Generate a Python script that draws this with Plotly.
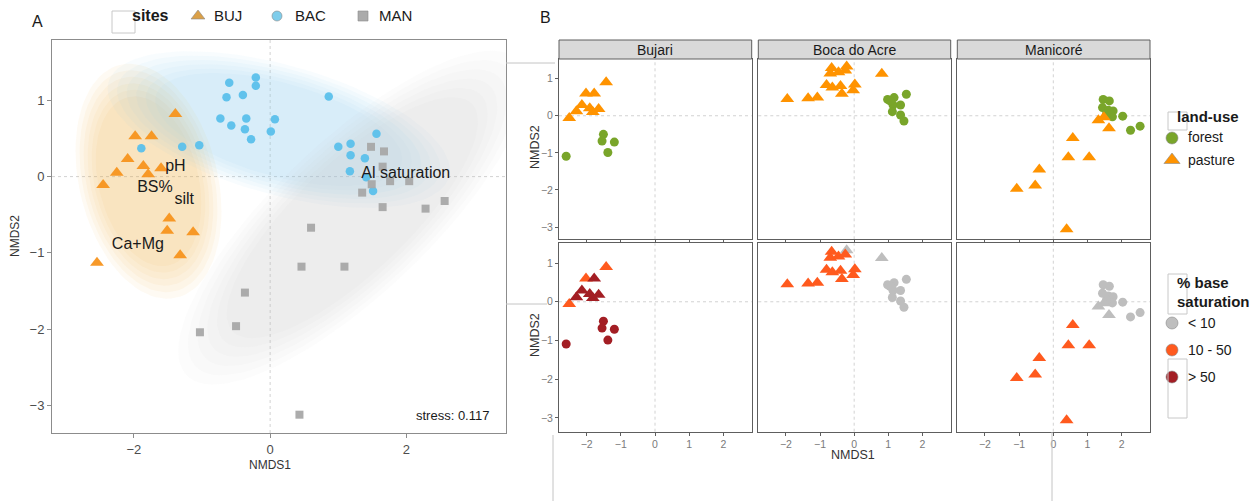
import numpy as np
import plotly.graph_objects as go

W, H = 1259, 501

# ---------------- Panel A: NMDS scores by site ----------------
site_names = ["BUJ", "BAC", "MAN"]

buj_x = [-1.39, -1.98, -1.74, -2.09, -1.86, -2.25, -1.79, -1.60, -2.45, -1.48, -1.51, -1.13, -1.32, -2.54]
buj_y = [0.82, 0.53, 0.53, 0.23, 0.14, 0.05, 0.03, 0.11, -0.11, -0.55, -0.71, -0.73, -1.03, -1.13]

bac_x = [-0.60, -0.64, -0.40, -0.21, -0.21, 0.86, -0.73, -0.57, -0.35, -0.37, -0.28, 0.07, 0.01,
         -1.89, -1.29, -1.04, 1.56, 1.00, 1.18, 1.18, 1.39, 1.17, 1.41, 1.51]
bac_y = [1.23, 1.04, 1.07, 1.30, 1.19, 1.05, 0.76, 0.67, 0.76, 0.62, 0.49, 0.75, 0.59,
         0.37, 0.39, 0.41, 0.56, 0.39, 0.43, 0.28, 0.24, 0.07, -0.01, -0.19]

man_x = [1.48, 1.67, 1.65, 1.76, 2.04, 1.49, 1.35, 1.65, 2.28, 2.56, 0.60, 0.46, 1.09, -0.37, -0.50, -1.03, 0.43]
man_y = [0.39, 0.33, 0.13, -0.06, -0.06, -0.10, -0.21, -0.40, -0.42, -0.32, -0.67, -1.18, -1.18, -1.52, -1.96, -2.04, -3.12]

env_labels = ["pH", "BS%", "silt", "Ca+Mg", "Al saturation"]
env_x = [-1.39, -1.69, -1.26, -1.94, 1.99]
env_y = [0.13, -0.15, -0.31, -0.90, 0.04]

stress_value = 0.117

# ---------------- Panel B: per-site NMDS by land use / base saturation ----------------
facet_titles = ["Bujari", "Boca do Acre", "Manicoré"]

bujari_x = [-2.51, -2.30, -2.14, -2.02, -1.78, -1.91, -1.82, -1.65, -1.43, -2.60, -1.51, -1.55, -1.19, -1.38]
bujari_y = [-0.06, 0.12, 0.29, 0.60, 0.60, 0.20, 0.10, 0.18, 0.90, -1.09, -0.50, -0.68, -0.71, -0.99]
bujari_use = ["pasture"] * 9 + ["forest"] * 5
bujari_bs = ["10 - 50", "> 50", "> 50", "10 - 50", "> 50", "> 50", "> 50", "> 50", "10 - 50",
             "> 50", "> 50", "> 50", "> 50", "> 50"]

boca_x = [-1.96, -1.35, -1.08, -0.81, -0.64, -0.40, -0.36, 0.02, -0.03, -0.66, -0.70, -0.46, -0.22, -0.26, 0.81,
          0.98, 1.17, 1.53, 1.14, 1.36, 1.12, 1.36, 1.46, 1.05]
boca_y = [0.45, 0.47, 0.49, 0.83, 0.76, 0.80, 0.59, 0.84, 0.69, 1.29, 1.14, 1.17, 1.33, 1.22, 1.13,
          0.44, 0.49, 0.58, 0.29, 0.29, 0.11, 0.02, -0.14, 0.40]
boca_use = ["pasture"] * 15 + ["forest"] * 9
boca_bs = ["10 - 50"] * 12 + ["< 10", "10 - 50", "< 10"] + ["< 10"] * 9

mani_x = [1.32, 1.48, 1.63, 0.57, 0.44, 1.05, -0.41, -0.53, -1.07, 0.39,
          1.46, 1.64, 1.44, 1.61, 1.75, 1.73, 2.03, 2.26, 2.54, 1.56]
mani_y = [-0.12, -0.04, -0.34, -0.60, -1.12, -1.12, -1.45, -1.88, -1.97, -3.06,
          0.44, 0.40, 0.22, 0.15, 0.13, -0.03, -0.01, -0.39, -0.28, 0.06]
mani_use = ["pasture"] * 10 + ["forest"] * 10
mani_bs = ["< 10"] * 3 + ["10 - 50"] * 7 + ["< 10"] * 10

landuse_levels = ["forest", "pasture"]
bs_levels = ["< 10", "10 - 50", "> 50"]

# ---------------- styling ----------------
FONT = "Liberation Sans, Arial, sans-serif"
site_color = {"BUJ": "#F7941D", "BAC": "#5BC0EB", "MAN": "#A8A8A8"}
site_symbol = {"BUJ": "triangle-up", "BAC": "circle", "MAN": "square"}
site_size = {"BUJ": 12, "BAC": 8.5, "MAN": 8}
ell_color = {"BUJ": (247, 179, 71), "BAC": (142, 208, 238), "MAN": (189, 189, 189)}
ell_alpha = {"BUJ": 0.065, "BAC": 0.06, "MAN": 0.05}
use_color = {"forest": "#79A52A", "pasture": "#FF9300"}
use_symbol = {"forest": "circle", "pasture": "triangle-up"}
bs_color = {"< 10": "#BEBEBE", "10 - 50": "#FF5A1E", "> 50": "#A31E24"}


def px(v):
    return v / W


def py(v):
    return 1 - v / H


def trob(xs, ys, nu=5, maxit=25, tol=0.01):
    """Multivariate-t robust location/scatter (as MASS::cov.trob)."""
    X = np.column_stack([xs, ys]).astype(float)
    n, p = X.shape
    wt = np.ones(n)
    loc = X.mean(axis=0)
    w = np.sqrt(wt)
    D = X - loc
    for _ in range(maxit):
        w0 = w
        D = X - loc
        s = np.sqrt(w / w.sum())[:, None] * D
        _, d, vt = np.linalg.svd(s, full_matrices=False)
        wX = D @ vt.T @ np.diag(1.0 / d)
        Q = (wX ** 2).sum(axis=1)
        w = wt * (nu + p) / (nu + Q)
        loc = (w[:, None] * X).sum(axis=0) / w.sum()
        if np.all(np.abs(w - w0) < tol):
            break
    sw = np.sqrt(w)[:, None] * D
    cov = sw.T @ sw / wt.sum()
    return loc, cov


def ellipse(xs, ys, scale=1.0, level=0.95, segments=90):
    loc, cov = trob(xs, ys)
    dfd = len(xs) - 1
    fq = dfd / 2 * ((1 - level) ** (-2 / dfd) - 1)
    radius = np.sqrt(2 * fq) * scale
    t = np.linspace(0, 2 * np.pi, segments + 1)
    circle = np.column_stack([np.cos(t), np.sin(t)])
    pts = loc + radius * circle @ np.linalg.cholesky(cov).T
    return pts[:, 0], pts[:, 1]


fig = go.Figure()

# ---- Panel A: soft confidence ellipses ----
site_data = {"BUJ": (buj_x, buj_y), "BAC": (bac_x, bac_y), "MAN": (man_x, man_y)}
blur_scales = [0.78, 0.84, 0.90, 0.96, 1.02, 1.08]
for s in site_names:
    xs, ys = site_data[s]
    r, g, b = ell_color[s]
    for k in blur_scales:
        ex, ey = ellipse(xs, ys, scale=k)
        fig.add_trace(go.Scatter(
            x=ex, y=ey, mode="lines", fill="toself", line=dict(width=0),
            fillcolor=f"rgba({r},{g},{b},{ell_alpha[s]})",
            hoverinfo="skip", showlegend=False, xaxis="x", yaxis="y"))

for s in site_names:
    xs, ys = site_data[s]
    fig.add_trace(go.Scatter(
        x=xs, y=ys, mode="markers", name=s, showlegend=False,
        marker=dict(symbol=site_symbol[s], size=site_size[s], color=site_color[s],
                    opacity=0.95, line=dict(width=0)),
        xaxis="x", yaxis="y"))

fig.add_trace(go.Scatter(
    x=env_x, y=env_y, mode="text", text=env_labels, showlegend=False,
    textfont=dict(family=FONT, size=16, color="#1a1a1a"), xaxis="x", yaxis="y"))

# ---- Panel B: facets ----
facets = [
    (bujari_x, bujari_y, bujari_use, bujari_bs),
    (boca_x, boca_y, boca_use, boca_bs),
    (mani_x, mani_y, mani_use, mani_bs),
]
for col, (fx, fy, fu, fb) in enumerate(facets):
    for row in range(2):
        ax = 2 + row * 3 + col
        for use in landuse_levels:
            idx = [i for i, u in enumerate(fu) if u == use]
            if row == 0:
                colors = use_color[use]
            else:
                colors = [bs_color[fb[i]] for i in idx]
            fig.add_trace(go.Scatter(
                x=[fx[i] for i in idx], y=[fy[i] for i in idx], mode="markers",
                showlegend=False,
                marker=dict(symbol=use_symbol[use], size=12 if use == "pasture" else 9,
                            color=colors, line=dict(width=0)),
                xaxis=f"x{ax}", yaxis=f"y{ax}"))

# ---- legend markers (drawn on a pixel-space overlay) ----
leg_items = [
    (198, 16, "triangle-up", 12, "#DBA048"),
    (277, 16, "circle", 10, "#7FCDEB"),
    (363, 16, "square", 10, "#ABABAB"),
    (1172, 138, "circle", 12, use_color["forest"]),
    (1172, 160, "triangle-up", 14, use_color["pasture"]),
    (1172, 323, "circle", 12, bs_color["< 10"]),
    (1172, 350, "circle", 12, bs_color["10 - 50"]),
    (1172, 377, "circle", 12, bs_color["> 50"]),
]
for lx, ly, sym, sz, colr in leg_items:
    fig.add_trace(go.Scatter(
        x=[lx], y=[ly], mode="markers", showlegend=False, hoverinfo="skip",
        marker=dict(symbol=sym, size=sz, color=colr, line=dict(width=0.6, color="#8a8a8a")),
        xaxis="x8", yaxis="y8"))

# ---------------- axes ----------------
tickA = dict(family=FONT, size=13, color="#4d4d4d")
tickB = dict(family=FONT, size=10.5, color="#7a7a7a")
layout_axes = {}
layout_axes["xaxis"] = dict(domain=[px(52), px(506)], range=[-3.20, 3.46], anchor="y",
                            tick0=0, dtick=2, tickfont=tickA)
layout_axes["yaxis"] = dict(domain=[py(433), py(40)], range=[-3.36, 1.79], anchor="x",
                            tick0=0, dtick=1, tickfont=tickA)
for k in ("xaxis", "yaxis"):
    layout_axes[k].update(showline=True, mirror=True, linecolor="#8c8c8c", linewidth=1,
                          ticks="outside", ticklen=4, tickcolor="#8c8c8c",
                          showgrid=False, zeroline=False)

col_px = [(559, 751.7), (758.3, 950.7), (957.3, 1150)]
row_px = [(59, 239.3), (243.3, 431.7)]
row_range = [[-3.33, 1.53], [-3.355, 1.51]]
for row in range(2):
    for col in range(3):
        ax = 2 + row * 3 + col
        layout_axes[f"xaxis{ax}"] = dict(
            domain=[px(col_px[col][0]), px(col_px[col][1])], range=[-2.81, 2.83],
            anchor=f"y{ax}", tick0=0, dtick=1, showticklabels=(row == 1))
        layout_axes[f"yaxis{ax}"] = dict(
            domain=[py(row_px[row][1]), py(row_px[row][0])], range=row_range[row],
            anchor=f"x{ax}", tick0=0, dtick=1, showticklabels=(col == 0),
            ticks="outside" if col == 0 else "")
        for k in (f"xaxis{ax}", f"yaxis{ax}"):
            layout_axes[k].setdefault("ticks", "outside")
            layout_axes[k].update(showline=True, mirror=True, linecolor="#5e5e5e", linewidth=1,
                                  ticklen=3, tickcolor="#5e5e5e", tickfont=tickB,
                                  showgrid=False, zeroline=False)

layout_axes["xaxis8"] = dict(domain=[0, 1], range=[0, W], visible=False, anchor="y8")
layout_axes["yaxis8"] = dict(domain=[0, 1], range=[H, 0], visible=False, anchor="x8")

# ---------------- shapes ----------------
shapes = []
zero_style = dict(color="#d2d2d2", width=1, dash="dot")
shapes.append(dict(type="line", xref="x", yref="y domain", x0=0, x1=0, y0=0, y1=1, line=zero_style, layer="below"))
shapes.append(dict(type="line", xref="x domain", yref="y", x0=0, x1=1, y0=0, y1=0, line=zero_style, layer="below"))
for ax in range(2, 8):
    shapes.append(dict(type="line", xref=f"x{ax}", yref=f"y{ax} domain", x0=0, x1=0, y0=0, y1=1,
                       line=zero_style, layer="below"))
    shapes.append(dict(type="line", xref=f"x{ax} domain", yref=f"y{ax}", x0=0, x1=1, y0=0, y1=0,
                       line=zero_style, layer="below"))

# facet strips
for (c0, c1) in col_px:
    shapes.append(dict(type="rect", xref="paper", yref="paper", x0=px(c0), x1=px(c1),
                       y0=py(59), y1=py(40), fillcolor="#d9d9d9", line=dict(color="#5e5e5e", width=1)))

# thin frame lines around the panel layout
frame = dict(color="#c4c4c4", width=1)
for x0, y0, x1, y1 in [(506, 63, 555, 63), (506, 304, 547, 304), (553, 435, 553, 501), (1052, 432, 1052, 501)]:
    shapes.append(dict(type="line", xref="paper", yref="paper", x0=px(x0), x1=px(x1),
                       y0=py(y0), y1=py(y1), line=frame))
# empty legend key boxes
for x0, y0, x1, y1 in [(112, 11, 135, 33), (1168, 112, 1187, 130), (1168, 274, 1187, 314), (1168, 359, 1187, 418)]:
    shapes.append(dict(type="rect", xref="paper", yref="paper", x0=px(x0), x1=px(x1),
                       y0=py(y1), y1=py(y0), line=dict(color="#c8c8c8", width=1), fillcolor="rgba(0,0,0,0)"))

# ---------------- annotations ----------------
ann = []


def note(text, x, y, size, color="#1a1a1a", xanchor="center", angle=0, yanchor="middle"):
    ann.append(dict(text=text, x=px(x), y=py(y), xref="paper", yref="paper", showarrow=False,
                    xanchor=xanchor, yanchor=yanchor, textangle=angle,
                    font=dict(family=FONT, size=size, color=color)))


note("A", 37, 21, 16)
note("B", 545, 18, 16)
note("NMDS1", 270, 465, 12, "#333333")
note("NMDS2", 15, 236, 12, "#333333", angle=-90)
note(f"stress: {stress_value}", 491, 415, 13, "#1a1a1a", xanchor="right")

note("<b>sites</b>", 130, 16, 16, xanchor="left")
for label, lx in zip(site_names, [212, 293, 377]):
    note(label, lx, 16, 15, "#1a1a1a", xanchor="left")

for t, (c0, c1) in zip(facet_titles, col_px):
    note(t, (c0 + c1) / 2, 50, 14, "#1a1a1a")
note("NMDS2", 535, 147, 12.5, "#333333", angle=-90)
note("NMDS2", 535, 335, 12.5, "#333333", angle=-90)
note("NMDS1", 853, 455, 12.5, "#333333")

note("<b>land-use</b>", 1175, 117, 15, xanchor="left")
note("forest", 1186, 137, 14, xanchor="left")
note("pasture", 1186, 160, 14, xanchor="left")

note("<b>% base</b>", 1175, 282, 15, xanchor="left")
note("<b>saturation</b>", 1175, 301, 15, xanchor="left")
for lab, ly in zip(bs_levels, [323, 350, 377]):
    note(lab, 1186, ly, 14, xanchor="left")

fig.update_layout(
    width=W, height=H, margin=dict(l=0, r=0, t=0, b=0),
    paper_bgcolor="white", plot_bgcolor="rgba(0,0,0,0)",
    font=dict(family=FONT), showlegend=False,
    shapes=shapes, annotations=ann, **layout_axes)

fig.write_html("out.html")
